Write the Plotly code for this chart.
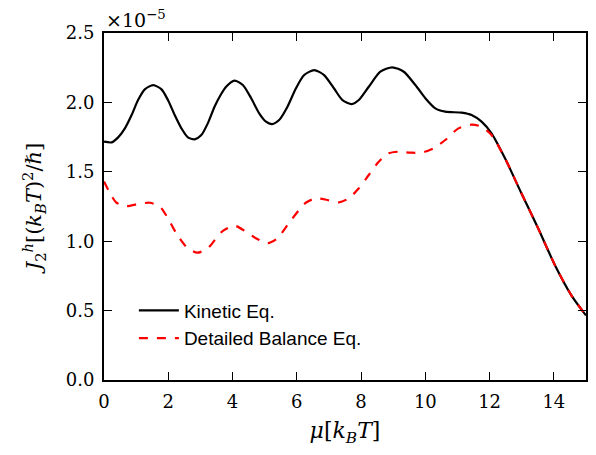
import plotly.graph_objects as go

# Kinetic Eq. (units of 1e-5)
kin_x = [0.0, 0.24, 0.44, 0.65, 0.86, 1.06, 1.27, 1.53, 1.79, 1.99, 2.20, 2.41, 2.61, 2.82, 3.03, 3.23, 3.44,
         3.62, 3.80, 4.06, 4.32, 4.58, 4.83, 5.04, 5.23, 5.45, 5.71, 5.97, 6.23, 6.54, 6.85, 7.16, 7.42,
         7.71, 7.93, 8.24, 8.60, 8.97, 9.33, 9.69, 10.0, 10.31, 10.62, 11.13, 11.44, 11.75, 12.06,
         12.48, 12.99, 13.51, 14.03, 14.54, 15.0]
kin_y = [1.717, 1.712, 1.748, 1.813, 1.909, 2.017, 2.094, 2.125, 2.094, 2.017, 1.909, 1.813, 1.748, 1.734, 1.765, 1.849, 1.969,
         2.05, 2.113, 2.157, 2.125, 2.03, 1.921, 1.861, 1.844, 1.873, 1.969, 2.10, 2.197, 2.233, 2.197, 2.10, 2.017,
         1.988, 2.017, 2.113, 2.221, 2.253, 2.221, 2.125, 2.03, 1.957, 1.933, 1.926, 1.909, 1.861, 1.777,
         1.597, 1.345, 1.093, 0.829, 0.612, 0.465]

# Detailed Balance Eq. (units of 1e-5)
db_x = [0.0, 0.19, 0.39, 0.70, 1.06, 1.43, 1.74, 1.99, 2.25, 2.56, 2.90, 3.23, 3.49, 3.70, 4.06, 4.42,
        4.73, 5.09, 5.40, 5.71, 6.07, 6.28, 6.59, 6.95, 7.31, 7.62, 7.93, 8.24, 8.55, 8.86, 9.17, 9.53,
        9.89, 10.26, 10.62, 11.03, 11.44, 11.75, 12.06, 12.48, 12.99, 13.51, 14.03, 14.54, 15.0]
db_y = [1.43, 1.345, 1.277, 1.253, 1.268, 1.277, 1.249, 1.165, 1.057, 0.960, 0.917, 0.949, 1.021, 1.075, 1.112, 1.068,
        1.021, 0.985, 1.021, 1.117, 1.225, 1.277, 1.309, 1.297, 1.28, 1.309, 1.381, 1.477, 1.573, 1.633, 1.645, 1.638,
        1.638, 1.669, 1.729, 1.813, 1.840, 1.825, 1.765, 1.597, 1.345, 1.093, 0.829, 0.612, 0.465]

x_ticks = [0, 2, 4, 6, 8, 10, 12, 14]
y_ticks = [0.0, 0.5, 1.0, 1.5, 2.0, 2.5]

serif = "DejaVu Serif"

fig = go.Figure()
fig.add_trace(go.Scatter(x=kin_x, y=kin_y, mode="lines", name="Kinetic Eq.", legendgroup="a",
                         line=dict(color="black", width=2.2, shape="spline", smoothing=0.7)))
fig.add_trace(go.Scatter(x=db_x, y=db_y, mode="lines", name="Detailed Balance Eq.", legendgroup="b",
                         line=dict(color="#ff0000", width=2.2, dash="dash", shape="spline", smoothing=0.7)))

axis_common = dict(showline=True, linecolor="black", linewidth=2, mirror="ticks",
                   ticks="inside", ticklen=8, tickwidth=1.2, tickcolor="black",
                   showgrid=False, zeroline=False, ticklabelstandoff=4,
                   tickfont=dict(family=serif, size=18, color="black"))

fig.update_layout(
    width=596, height=455,
    margin=dict(l=104, r=8, t=33, b=75),
    paper_bgcolor="white", plot_bgcolor="white",
    showlegend=True,
    legend=dict(x=0.062, y=0.255, xanchor="left", yanchor="top",
                bgcolor="rgba(0,0,0,0)", borderwidth=0,
                font=dict(family="Liberation Sans", size=19, color="black"),
                itemwidth=40, tracegroupgap=0),
    xaxis=dict(range=[0, 15], tickvals=x_ticks, ticktext=[str(v) for v in x_ticks],
               title=dict(text="<i>μ</i>[<i>k</i><sub><i>B</i></sub><i>T</i>]",
                          font=dict(family=serif, size=22, color="black"), standoff=12),
               **axis_common),
    yaxis=dict(range=[0, 2.5], tickvals=y_ticks, ticktext=[f"{v:.1f}" for v in y_ticks],
               title=dict(text="<i>J</i><sub>2</sub><sup><i>h</i></sup>[(<i>k</i><sub><i>B</i></sub><i>T</i>)<sup>2</sup>/ℏ]",
                          font=dict(family=serif, size=21, color="black"), standoff=18),
               **axis_common),
    annotations=[dict(text="×10<sup>−5</sup>", x=0, y=1.0, xref="paper", yref="paper",
                      xanchor="left", yanchor="bottom", showarrow=False, yshift=0,
                      font=dict(family=serif, size=19, color="black"))],
)

fig.write_html("out.html")
